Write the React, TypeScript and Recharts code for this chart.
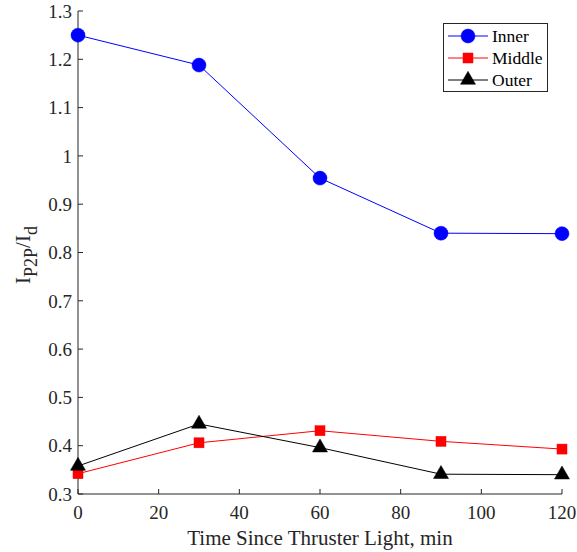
import React from 'react';
import { LineChart, Line, XAxis, YAxis, Legend } from 'recharts';

const times = [0, 30, 60, 90, 120];
const innerVals = [1.25, 1.188, 0.954, 0.84, 0.839];
const middleVals = [0.342, 0.406, 0.431, 0.409, 0.393];
const outerVals = [0.358, 0.445, 0.396, 0.341, 0.34];

const xTicks = [0, 20, 40, 60, 80, 100, 120];
const yTicks = [0.3, 0.4, 0.5, 0.6, 0.7, 0.8, 0.9, 1, 1.1, 1.2, 1.3];

const seriesNames = ['Inner', 'Middle', 'Outer'];
const seriesColors = ['#0000ff', '#ff0000', '#000000'];

const data = times.map((t, i) => ({
  t,
  inner: innerVals[i],
  middle: middleVals[i],
  outer: outerVals[i],
}));

const FONT = 'Liberation Serif';
const AX = '#262626';
const TICK_FS = 19;
const LABEL_FS = 21;

const Circle = (props: any) => {
  const { cx, cy } = props;
  if (cx == null || cy == null) return null;
  return <circle cx={cx} cy={cy} r={7} fill="#0000ff" stroke="#0000ff" strokeWidth={0.5} />;
};
const Square = (props: any) => {
  const { cx, cy } = props;
  if (cx == null || cy == null) return null;
  return <rect x={cx - 5} y={cy - 5} width={10} height={10} fill="#ff0000" stroke="#ff0000" strokeWidth={0.5} />;
};
const Tri = (props: any) => {
  const { cx, cy } = props;
  if (cx == null || cy == null) return null;
  return (
    <polygon
      points={`${cx},${cy - 8.7} ${cx + 7.5},${cy + 4.3} ${cx - 7.5},${cy + 4.3}`}
      fill="#000"
      stroke="#000"
      strokeWidth={0.5}
    />
  );
};

const markerFns = [Circle, Square, Tri];

const XTick = (props: any) => (
  <text
    x={props.x}
    y={props.y}
    dy="0.71em"
    textAnchor="middle"
    fontFamily={FONT}
    fontSize={TICK_FS}
    fill={AX}
  >
    {String(props.payload.value)}
  </text>
);

const YTick = (props: any) => (
  <text
    x={props.x}
    y={props.y}
    dy="0.355em"
    textAnchor="end"
    fontFamily={FONT}
    fontSize={TICK_FS}
    fill={AX}
  >
    {String(props.payload.value)}
  </text>
);

const LegendBox = () => (
  <svg width={106} height={70} style={{ display: 'block' }}>
    <rect x={0.5} y={0.5} width={104} height={68} fill="#fff" stroke={AX} strokeWidth={1} />
    {seriesNames.map((name, i) => {
      const y = 13 + i * 22;
      const M = markerFns[i];
      return (
        <g key={name}>
          <line x1={5} x2={45} y1={y} y2={y} stroke={seriesColors[i]} strokeWidth={1} />
          <M cx={25} cy={y} />
          <text x={49} y={y + 6} fontFamily={FONT} fontSize={17.5} fill="#000">
            {name}
          </text>
        </g>
      );
    })}
  </svg>
);

const YLabel = () => {
  const cx = 30;
  const cy = 255;
  return (
    <text
      x={cx}
      y={cy}
      transform={`rotate(-90, ${cx}, ${cy})`}
      textAnchor="middle"
      fontFamily={FONT}
      fontSize={LABEL_FS}
      fill={AX}
    >
      <tspan>I</tspan>
      <tspan fontSize={18} dy={7}>P2P</tspan>
      <tspan dy={-7}>/I</tspan>
      <tspan fontSize={18} dy={7}>d</tspan>
    </text>
  );
};

const XLabel = (props: any) => {
  const vb = props.viewBox || {};
  const cx = vb.x + vb.width / 2;
  return (
    <text
      x={cx}
      y={545}
      textAnchor="middle"
      fontFamily={FONT}
      fontSize={LABEL_FS}
      fill={AX}
    >
      Time Since Thruster Light, min
    </text>
  );
};

export default function App() {
  return (
    <div style={{ position: 'absolute', left: 0, top: 0, background: '#fff' }}>
      <LineChart
        width={577}
        height={552}
        data={data}
        margin={{ top: 11, right: 15, bottom: 0, left: 0 }}
      >
        <XAxis
          dataKey="t"
          type="number"
          domain={[0, 120]}
          ticks={xTicks}
          height={58}
          tickSize={-5}
          tickMargin={17}
          stroke={AX}
          tick={<XTick />}
          label={<XLabel />}
        />
        <XAxis
          xAxisId="top"
          orientation="top"
          dataKey="t"
          type="number"
          domain={[0, 120]}
          ticks={xTicks}
          height={0}
          tickSize={-5}
          stroke={AX}
          tick={false}
        />
        <YAxis
          type="number"
          domain={[0.3, 1.3]}
          ticks={yTicks}
          width={78}
          tickSize={-5}
          tickMargin={11}
          stroke={AX}
          tick={<YTick />}
          label={<YLabel />}
        />
        <YAxis
          yAxisId="right"
          orientation="right"
          type="number"
          domain={[0.3, 1.3]}
          ticks={yTicks}
          width={0}
          tickSize={-5}
          stroke={AX}
          tick={false}
        />
        <Legend
          layout="horizontal"
          verticalAlign="middle"
          align="center"
          content={() => <LegendBox />}
          wrapperStyle={{ position: 'absolute', left: 443, top: 23, width: 106, height: 70 }}
        />
        <Line
          dataKey="inner"
          stroke="#0000ff"
          strokeWidth={1}
          dot={<Circle />}
          activeDot={false}
          isAnimationActive={false}
        />
        <Line
          dataKey="middle"
          stroke="#ff0000"
          strokeWidth={1}
          dot={<Square />}
          activeDot={false}
          isAnimationActive={false}
        />
        <Line
          dataKey="outer"
          stroke="#000000"
          strokeWidth={1}
          dot={<Tri />}
          activeDot={false}
          isAnimationActive={false}
        />
      </LineChart>
    </div>
  );
}
